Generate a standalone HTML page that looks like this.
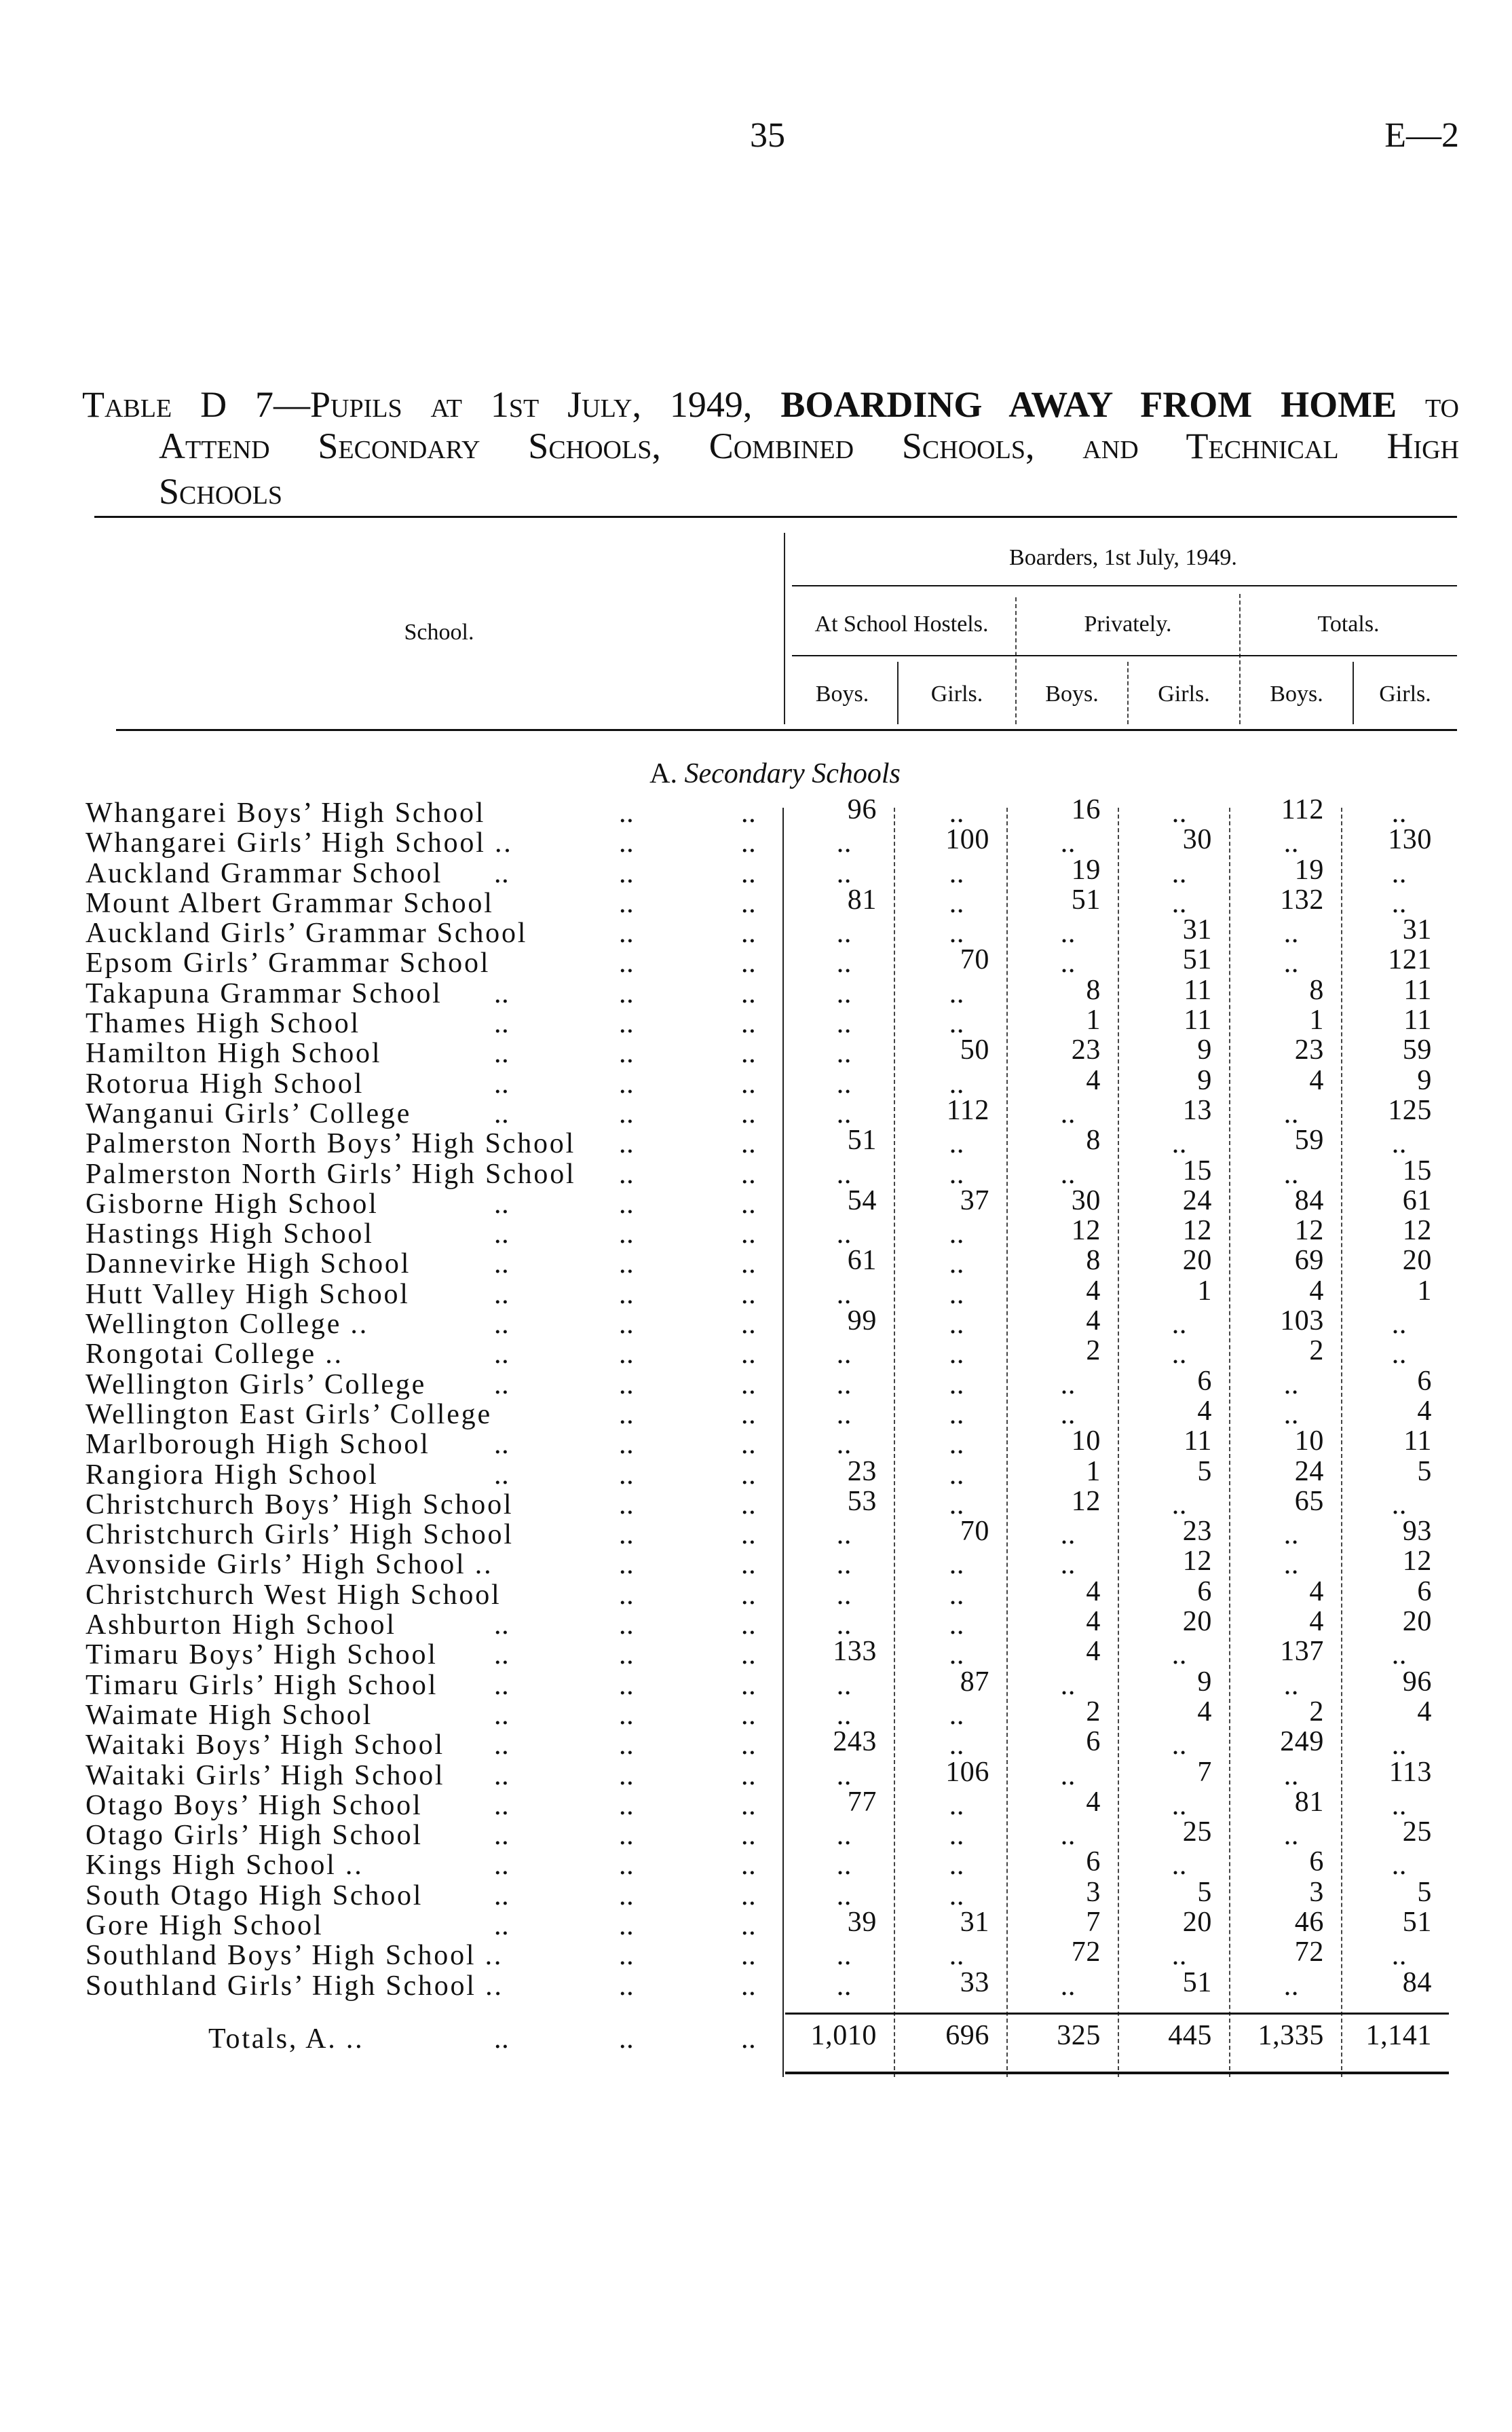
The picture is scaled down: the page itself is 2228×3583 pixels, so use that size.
<!DOCTYPE html>
<html><head><meta charset="utf-8"><style>
body{margin:0;background:#fff;}
#p{position:relative;width:2228px;height:3583px;background:#fff;color:#111;font-family:"Liberation Serif",serif;overflow:hidden}
.a{position:absolute;white-space:nowrap}
.t{position:absolute;left:121px;width:2029px;font-size:54px;font-variant:small-caps;text-align:justify;text-align-last:justify;line-height:60px;white-space:nowrap}
.hl{position:absolute;background:#111}
.vl{position:absolute;width:0;border-left:2px solid #222}
.vd{position:absolute;width:0;border-left:2px dashed #444}
.hc{position:absolute;font-size:34px;line-height:40px;text-align:center}
#rows{position:absolute;left:0;top:1176px;width:2228px}
.r{display:grid;grid-template-columns:1153px 164px 166px 164px 164px 165px 159px;height:44.3px;font-size:42px;line-height:44.3px;letter-spacing:0.6px}
.r>span{text-align:right;padding-right:25px;position:relative;top:-5px}
.r>span.e{padding-right:62px;top:0}
.n{position:relative;padding-left:126px;white-space:nowrap;letter-spacing:2.8px}
.n i{font-style:normal;position:absolute;letter-spacing:0.6px}
.d1{left:728px}.d2{left:912px}.d3{left:1092px}
</style></head><body><div id="p">
<div class="a" style="left:1105px;top:170px;font-size:52px">35</div>
<div class="a" style="right:78px;top:170px;font-size:52px">E—2</div>
<div class="t" style="top:566px">Table D 7—Pupils at 1st July, 1949, <b style="font-variant:normal">BOARDING AWAY FROM HOME</b> to</div>
<div class="t" style="top:627px;left:234px;width:1916px">Attend Secondary Schools, Combined Schools, and Technical High</div>
<div class="a" style="top:694px;left:234px;font-size:54px;font-variant:small-caps;line-height:60px">Schools</div>

<div class="hl" style="left:139px;top:760px;width:2008px;height:3px"></div>
<div class="vl" style="left:1155px;top:785px;height:282px"></div>
<div class="hc" style="left:1160px;width:990px;top:802px">Boarders, 1st July, 1949.</div>
<div class="hl" style="left:1167px;top:862px;width:980px;height:2px"></div>
<div class="hc" style="left:139px;width:1016px;top:912px">School.</div>
<div class="hc" style="left:1160px;width:337px;top:900px">At School Hostels.</div>
<div class="hc" style="left:1497px;width:330px;top:900px">Privately.</div>
<div class="hc" style="left:1827px;width:320px;top:900px">Totals.</div>
<div class="vd" style="left:1496px;top:880px;height:187px"></div>
<div class="vd" style="left:1826px;top:875px;height:192px"></div>
<div class="hl" style="left:1167px;top:965px;width:980px;height:2px"></div>
<div class="vl" style="left:1322px;top:975px;height:92px"></div>
<div class="vd" style="left:1661px;top:975px;height:92px"></div>
<div class="vl" style="left:1993px;top:975px;height:92px"></div>
<div class="hc" style="left:1160px;width:162px;top:1003px">Boys.</div>
<div class="hc" style="left:1323px;width:174px;top:1003px">Girls.</div>
<div class="hc" style="left:1497px;width:165px;top:1003px">Boys.</div>
<div class="hc" style="left:1662px;width:165px;top:1003px">Girls.</div>
<div class="hc" style="left:1827px;width:167px;top:1003px">Boys.</div>
<div class="hc" style="left:1994px;width:153px;top:1003px">Girls.</div>
<div class="hl" style="left:171px;top:1074px;width:1976px;height:3px"></div>

<div class="a" style="left:0;width:2284px;text-align:center;top:1116px;font-size:42px">A. <i>Secondary Schools</i></div>

<div class="vl" style="left:1153px;top:1190px;height:1870px"></div>
<div class="vd" style="left:1317px;top:1190px;height:1870px"></div>
<div class="vd" style="left:1483px;top:1190px;height:1870px"></div>
<div class="vd" style="left:1647px;top:1190px;height:1870px"></div>
<div class="vd" style="left:1811px;top:1190px;height:1870px"></div>
<div class="vd" style="left:1976px;top:1190px;height:1870px"></div>

<div id="rows">
<div class="r"><div class="n">Whangarei Boys’ High School<i class="d2">..</i><i class="d3">..</i></div><span>96</span><span class="e">..</span><span>16</span><span class="e">..</span><span>112</span><span class="e">..</span></div>
<div class="r"><div class="n">Whangarei Girls’ High School ..<i class="d2">..</i><i class="d3">..</i></div><span class="e">..</span><span>100</span><span class="e">..</span><span>30</span><span class="e">..</span><span>130</span></div>
<div class="r"><div class="n">Auckland Grammar School<i class="d1">..</i><i class="d2">..</i><i class="d3">..</i></div><span class="e">..</span><span class="e">..</span><span>19</span><span class="e">..</span><span>19</span><span class="e">..</span></div>
<div class="r"><div class="n">Mount Albert Grammar School<i class="d2">..</i><i class="d3">..</i></div><span>81</span><span class="e">..</span><span>51</span><span class="e">..</span><span>132</span><span class="e">..</span></div>
<div class="r"><div class="n">Auckland Girls’ Grammar School<i class="d2">..</i><i class="d3">..</i></div><span class="e">..</span><span class="e">..</span><span class="e">..</span><span>31</span><span class="e">..</span><span>31</span></div>
<div class="r"><div class="n">Epsom Girls’ Grammar School<i class="d2">..</i><i class="d3">..</i></div><span class="e">..</span><span>70</span><span class="e">..</span><span>51</span><span class="e">..</span><span>121</span></div>
<div class="r"><div class="n">Takapuna Grammar School<i class="d1">..</i><i class="d2">..</i><i class="d3">..</i></div><span class="e">..</span><span class="e">..</span><span>8</span><span>11</span><span>8</span><span>11</span></div>
<div class="r"><div class="n">Thames High School<i class="d1">..</i><i class="d2">..</i><i class="d3">..</i></div><span class="e">..</span><span class="e">..</span><span>1</span><span>11</span><span>1</span><span>11</span></div>
<div class="r"><div class="n">Hamilton High School<i class="d1">..</i><i class="d2">..</i><i class="d3">..</i></div><span class="e">..</span><span>50</span><span>23</span><span>9</span><span>23</span><span>59</span></div>
<div class="r"><div class="n">Rotorua High School<i class="d1">..</i><i class="d2">..</i><i class="d3">..</i></div><span class="e">..</span><span class="e">..</span><span>4</span><span>9</span><span>4</span><span>9</span></div>
<div class="r"><div class="n">Wanganui Girls’ College<i class="d1">..</i><i class="d2">..</i><i class="d3">..</i></div><span class="e">..</span><span>112</span><span class="e">..</span><span>13</span><span class="e">..</span><span>125</span></div>
<div class="r"><div class="n">Palmerston North Boys’ High School<i class="d2">..</i><i class="d3">..</i></div><span>51</span><span class="e">..</span><span>8</span><span class="e">..</span><span>59</span><span class="e">..</span></div>
<div class="r"><div class="n">Palmerston North Girls’ High School<i class="d2">..</i><i class="d3">..</i></div><span class="e">..</span><span class="e">..</span><span class="e">..</span><span>15</span><span class="e">..</span><span>15</span></div>
<div class="r"><div class="n">Gisborne High School<i class="d1">..</i><i class="d2">..</i><i class="d3">..</i></div><span>54</span><span>37</span><span>30</span><span>24</span><span>84</span><span>61</span></div>
<div class="r"><div class="n">Hastings High School<i class="d1">..</i><i class="d2">..</i><i class="d3">..</i></div><span class="e">..</span><span class="e">..</span><span>12</span><span>12</span><span>12</span><span>12</span></div>
<div class="r"><div class="n">Dannevirke High School<i class="d1">..</i><i class="d2">..</i><i class="d3">..</i></div><span>61</span><span class="e">..</span><span>8</span><span>20</span><span>69</span><span>20</span></div>
<div class="r"><div class="n">Hutt Valley High School<i class="d1">..</i><i class="d2">..</i><i class="d3">..</i></div><span class="e">..</span><span class="e">..</span><span>4</span><span>1</span><span>4</span><span>1</span></div>
<div class="r"><div class="n">Wellington College ..<i class="d1">..</i><i class="d2">..</i><i class="d3">..</i></div><span>99</span><span class="e">..</span><span>4</span><span class="e">..</span><span>103</span><span class="e">..</span></div>
<div class="r"><div class="n">Rongotai College ..<i class="d1">..</i><i class="d2">..</i><i class="d3">..</i></div><span class="e">..</span><span class="e">..</span><span>2</span><span class="e">..</span><span>2</span><span class="e">..</span></div>
<div class="r"><div class="n">Wellington Girls’ College<i class="d1">..</i><i class="d2">..</i><i class="d3">..</i></div><span class="e">..</span><span class="e">..</span><span class="e">..</span><span>6</span><span class="e">..</span><span>6</span></div>
<div class="r"><div class="n">Wellington East Girls’ College<i class="d2">..</i><i class="d3">..</i></div><span class="e">..</span><span class="e">..</span><span class="e">..</span><span>4</span><span class="e">..</span><span>4</span></div>
<div class="r"><div class="n">Marlborough High School<i class="d1">..</i><i class="d2">..</i><i class="d3">..</i></div><span class="e">..</span><span class="e">..</span><span>10</span><span>11</span><span>10</span><span>11</span></div>
<div class="r"><div class="n">Rangiora High School<i class="d1">..</i><i class="d2">..</i><i class="d3">..</i></div><span>23</span><span class="e">..</span><span>1</span><span>5</span><span>24</span><span>5</span></div>
<div class="r"><div class="n">Christchurch Boys’ High School<i class="d2">..</i><i class="d3">..</i></div><span>53</span><span class="e">..</span><span>12</span><span class="e">..</span><span>65</span><span class="e">..</span></div>
<div class="r"><div class="n">Christchurch Girls’ High School<i class="d2">..</i><i class="d3">..</i></div><span class="e">..</span><span>70</span><span class="e">..</span><span>23</span><span class="e">..</span><span>93</span></div>
<div class="r"><div class="n">Avonside Girls’ High School ..<i class="d2">..</i><i class="d3">..</i></div><span class="e">..</span><span class="e">..</span><span class="e">..</span><span>12</span><span class="e">..</span><span>12</span></div>
<div class="r"><div class="n">Christchurch West High School<i class="d2">..</i><i class="d3">..</i></div><span class="e">..</span><span class="e">..</span><span>4</span><span>6</span><span>4</span><span>6</span></div>
<div class="r"><div class="n">Ashburton High School<i class="d1">..</i><i class="d2">..</i><i class="d3">..</i></div><span class="e">..</span><span class="e">..</span><span>4</span><span>20</span><span>4</span><span>20</span></div>
<div class="r"><div class="n">Timaru Boys’ High School<i class="d1">..</i><i class="d2">..</i><i class="d3">..</i></div><span>133</span><span class="e">..</span><span>4</span><span class="e">..</span><span>137</span><span class="e">..</span></div>
<div class="r"><div class="n">Timaru Girls’ High School<i class="d1">..</i><i class="d2">..</i><i class="d3">..</i></div><span class="e">..</span><span>87</span><span class="e">..</span><span>9</span><span class="e">..</span><span>96</span></div>
<div class="r"><div class="n">Waimate High School<i class="d1">..</i><i class="d2">..</i><i class="d3">..</i></div><span class="e">..</span><span class="e">..</span><span>2</span><span>4</span><span>2</span><span>4</span></div>
<div class="r"><div class="n">Waitaki Boys’ High School<i class="d1">..</i><i class="d2">..</i><i class="d3">..</i></div><span>243</span><span class="e">..</span><span>6</span><span class="e">..</span><span>249</span><span class="e">..</span></div>
<div class="r"><div class="n">Waitaki Girls’ High School<i class="d1">..</i><i class="d2">..</i><i class="d3">..</i></div><span class="e">..</span><span>106</span><span class="e">..</span><span>7</span><span class="e">..</span><span>113</span></div>
<div class="r"><div class="n">Otago Boys’ High School<i class="d1">..</i><i class="d2">..</i><i class="d3">..</i></div><span>77</span><span class="e">..</span><span>4</span><span class="e">..</span><span>81</span><span class="e">..</span></div>
<div class="r"><div class="n">Otago Girls’ High School<i class="d1">..</i><i class="d2">..</i><i class="d3">..</i></div><span class="e">..</span><span class="e">..</span><span class="e">..</span><span>25</span><span class="e">..</span><span>25</span></div>
<div class="r"><div class="n">Kings High School ..<i class="d1">..</i><i class="d2">..</i><i class="d3">..</i></div><span class="e">..</span><span class="e">..</span><span>6</span><span class="e">..</span><span>6</span><span class="e">..</span></div>
<div class="r"><div class="n">South Otago High School<i class="d1">..</i><i class="d2">..</i><i class="d3">..</i></div><span class="e">..</span><span class="e">..</span><span>3</span><span>5</span><span>3</span><span>5</span></div>
<div class="r"><div class="n">Gore High School<i class="d1">..</i><i class="d2">..</i><i class="d3">..</i></div><span>39</span><span>31</span><span>7</span><span>20</span><span>46</span><span>51</span></div>
<div class="r"><div class="n">Southland Boys’ High School ..<i class="d2">..</i><i class="d3">..</i></div><span class="e">..</span><span class="e">..</span><span>72</span><span class="e">..</span><span>72</span><span class="e">..</span></div>
<div class="r"><div class="n">Southland Girls’ High School ..<i class="d2">..</i><i class="d3">..</i></div><span class="e">..</span><span>33</span><span class="e">..</span><span>51</span><span class="e">..</span><span>84</span></div>
</div>

<div class="hl" style="left:1157px;top:2965px;width:978px;height:3px"></div>
<div class="r" style="position:absolute;left:0;top:2982px;width:2228px"><div class="n" style="padding-left:307px">Totals, A. ..<i style="left:728px">..</i><i style="left:912px">..</i><i style="left:1092px">..</i></div><span>1,010</span><span>696</span><span>325</span><span>445</span><span>1,335</span><span>1,141</span></div>
<div class="hl" style="left:1157px;top:3052px;width:978px;height:4px"></div>
</div></body></html>
